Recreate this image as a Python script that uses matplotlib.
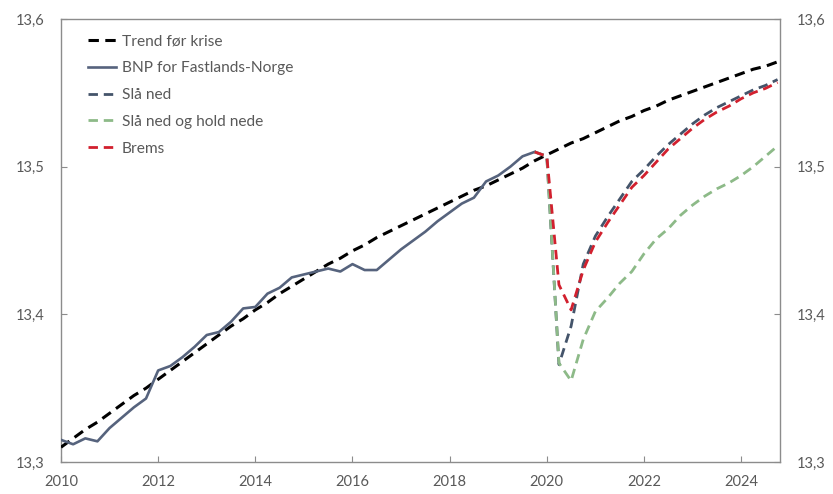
import numpy as np
import matplotlib
matplotlib.use("Agg")
import matplotlib.pyplot as plt

# ---------------- data ----------------
start_year = 2010
trend = [13.310, 13.316, 13.322, 13.327,
         13.333, 13.339, 13.345, 13.350,
         13.356, 13.362, 13.368, 13.374,
         13.380, 13.386, 13.392, 13.397,
         13.403, 13.408, 13.414, 13.419,
         13.424, 13.429, 13.434, 13.438,
         13.443, 13.447, 13.452, 13.456,
         13.460, 13.464, 13.468, 13.472,
         13.476, 13.480, 13.484, 13.487,
         13.491, 13.495, 13.499, 13.504,
         13.508, 13.512, 13.516, 13.519,
         13.523, 13.527, 13.531, 13.534,
         13.538, 13.541, 13.545, 13.548,
         13.551, 13.554, 13.557, 13.560,
         13.563, 13.566, 13.568, 13.571]

bnp = [13.315, 13.312, 13.316, 13.314,
       13.323, 13.330, 13.337, 13.343,
       13.362, 13.365, 13.371, 13.378,
       13.386, 13.388, 13.395, 13.404,
       13.405, 13.414, 13.418, 13.425,
       13.427, 13.429, 13.431, 13.429,
       13.434, 13.430, 13.430, 13.437,
       13.444, 13.450, 13.456, 13.463,
       13.469, 13.475, 13.479, 13.490,
       13.494, 13.500, 13.507, 13.510]

# scenarios start 2019Q4
sla_ned = [13.510, 13.507, 13.366, 13.392, 13.434,
           13.453, 13.466, 13.478, 13.490,
           13.498, 13.507, 13.515, 13.522,
           13.529, 13.535, 13.540, 13.544,
           13.548, 13.552, 13.555, 13.559]

sla_ned_hold = [13.510, 13.507, 13.367, 13.355, 13.383,
                13.402, 13.411, 13.421, 13.429,
                13.441, 13.451, 13.458, 13.467,
                13.474, 13.480, 13.485, 13.489,
                13.494, 13.500, 13.507, 13.514]

brems = [13.510, 13.507, 13.420, 13.403, 13.430,
         13.449, 13.462, 13.474, 13.486,
         13.494, 13.503, 13.512, 13.519,
         13.526, 13.532, 13.537, 13.541,
         13.546, 13.550, 13.553, 13.557]

labels = ["Trend før krise", "BNP for Fastlands-Norge", "Slå ned",
          "Slå ned og hold nede", "Brems"]
x_ticks = [2010, 2012, 2014, 2016, 2018, 2020, 2022, 2024]
y_ticks = [13.3, 13.4, 13.5, 13.6]

# ---------------- plot ----------------
plt.rcParams['font.family'] = ['Lato', 'DejaVu Sans']

t_trend = start_year + np.arange(len(trend)) / 4
t_bnp = start_year + np.arange(len(bnp)) / 4
t_scen = start_year + (len(bnp) - 1) / 4 + np.arange(len(brems)) / 4

fig = plt.figure(figsize=(8.33, 4.94), dpi=100)
ax = fig.add_axes([61 / 833, 1 - 462 / 494, (780 - 61) / 833, (462 - 19) / 494])

dash = (3.4, 2.1)
ax.plot(t_trend, trend, color='black', lw=2.2, dashes=dash, label=labels[0], zorder=3)
ax.plot(t_bnp, bnp, color='#56637D', lw=1.9, label=labels[1], zorder=4)
ax.plot(t_scen, sla_ned, color='#44546A', lw=2.0, dashes=dash, label=labels[2], zorder=5)
ax.plot(t_scen, sla_ned_hold, color='#8DBA88', lw=2.0, dashes=dash, label=labels[3], zorder=5)
ax.plot(t_scen, brems, color='#D2202E', lw=2.0, dashes=dash, label=labels[4], zorder=6)

ax.set_xlim(2010, 2024.8)
ax.set_ylim(13.3, 13.6)
ax.set_xticks(x_ticks)
ax.set_xticklabels([str(v) for v in x_ticks])
ax.set_yticks(y_ticks)
ax.set_yticklabels([f"{v:.1f}".replace('.', ',') for v in y_ticks])

for s in ax.spines.values():
    s.set_color('#8C8C8C')
    s.set_linewidth(1.0)

ax.tick_params(axis='y', which='both', direction='in', length=4, color='#8C8C8C',
               left=True, right=True, labelleft=True, labelright=True,
               labelsize=10.5, labelcolor='#595959', pad=12)
ax.tick_params(axis='x', direction='in', length=4, color='#8C8C8C',
               labelsize=10.5, labelcolor='#595959', pad=9)

leg = ax.legend(loc='upper left', bbox_to_anchor=(0.037, 0.965), frameon=False,
                fontsize=11.2, handlelength=1.8, handletextpad=0.4,
                labelspacing=0.82, borderpad=0, borderaxespad=0)
for txt in leg.get_texts():
    txt.set_color('#595959')

fig.savefig('out.png', dpi=100)
